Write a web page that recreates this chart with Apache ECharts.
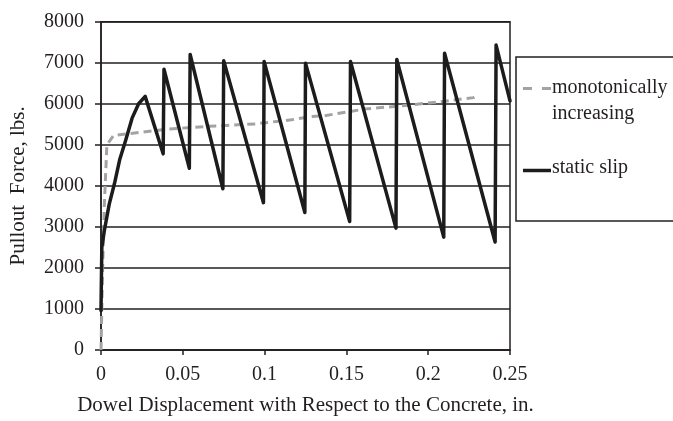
<!DOCTYPE html>
<html>
<head>
<meta charset="utf-8">
<script src="https://cdn.jsdelivr.net/npm/echarts@6/dist/echarts.min.js"></script>
<style>
  html, body { margin: 0; padding: 0; background: #fff; }
  #chart { width: 673px; height: 421px; }
</style>
</head>
<body>
<div id="chart"></div>
<script>
// displacement (in.) / force (lbs.)
var slipX = [0, 0.0005, 0.002, 0.005, 0.0085, 0.0115, 0.015, 0.019, 0.023, 0.027,
  0.038, 0.0385, 0.054, 0.0545, 0.0745, 0.075, 0.0993, 0.0997, 0.1246, 0.125,
  0.152, 0.1525, 0.1803, 0.1808, 0.2095, 0.21, 0.2409, 0.2415, 0.25]
var slipY = [960, 2500, 2900, 3550, 4100, 4650, 5100, 5650, 6000, 6180,
  4780, 6840, 4430, 7200, 3930, 7050, 3590, 7030, 3350, 6990,
  3130, 7030, 2970, 7080, 2750, 7230, 2630, 7430, 6070]

var monoX = [0, 0.001, 0.002, 0.0036, 0.0077, 0.0255, 0.04, 0.0656, 0.0943, 0.1165,
  0.1286, 0.1367, 0.161, 0.1832, 0.2055, 0.2277, 0.229]
var monoY = [0, 2000, 3500, 5000, 5230, 5310, 5380, 5450, 5510, 5610,
  5690, 5710, 5870, 5950, 6040, 6150, 6180]

var xTicks = [0, 0.05, 0.1, 0.15, 0.2, 0.25]
var yTicks = [0, 1000, 2000, 3000, 4000, 5000, 6000, 7000, 8000]

var seriesNames = ['monotonically increasing', 'static slip']

function zip(xs, ys) {
  return xs.map(function (x, i) { return [x, ys[i]] })
}

var ink = '#231f20'
var serif = '"Liberation Serif", "DejaVu Serif", serif'

var chart = echarts.init(document.getElementById('chart'))
chart.setOption({
  animation: false,
  backgroundColor: '#fff',
  textStyle: { fontFamily: serif, color: ink },
  grid: {
    left: 99, right: 163, top: 21.7, bottom: 66,
    show: true, borderColor: ink, borderWidth: 1.5
  },
  xAxis: {
    type: 'value',
    min: xTicks[0],
    max: xTicks[xTicks.length - 1],
    interval: 0.05,
    name: 'Dowel Displacement with Respect to the Concrete, in.',
    nameLocation: 'middle',
    nameGap: 45,
    nameTextStyle: { fontFamily: serif, fontSize: 21, color: ink },
    axisLine: { lineStyle: { color: ink, width: 1.5 } },
    axisTick: { length: 5, lineStyle: { color: ink, width: 1.5 } },
    axisLabel: {
      margin: 15, fontFamily: serif, fontSize: 20, color: ink,
      formatter: function (v) { return String(+v.toFixed(2)) }
    },
    splitLine: { show: false }
  },
  yAxis: {
    type: 'value',
    min: yTicks[0],
    max: yTicks[yTicks.length - 1],
    interval: 1000,
    name: 'Pullout  Force, lbs.',
    nameLocation: 'middle',
    nameRotate: 90,
    nameGap: 72,
    nameTextStyle: { fontFamily: serif, fontSize: 21, color: ink },
    axisLine: { show: true, lineStyle: { color: ink, width: 1.5 } },
    axisTick: { show: true, length: 6, lineStyle: { color: ink, width: 1.5 } },
    axisLabel: {
      margin: 17, fontFamily: serif, fontSize: 20, color: ink,
      formatter: function (v) { return String(v) }
    },
    splitLine: { show: true, lineStyle: { color: ink, width: 1.5 } }
  },
  series: [
    {
      name: seriesNames[0],
      type: 'line',
      showSymbol: false,
      data: zip(monoX, monoY),
      lineStyle: { color: '#a3a3a3', width: 3, type: [8, 5] },
      z: 2
    },
    {
      name: seriesNames[1],
      type: 'line',
      showSymbol: false,
      data: zip(slipX, slipY),
      lineStyle: { color: '#1c1c1c', width: 3.5, join: 'round', cap: 'round' },
      z: 3
    }
  ],
  graphic: [
    {
      type: 'rect',
      shape: { x: 516, y: 57, width: 200, height: 164 },
      style: { fill: 'none', stroke: ink, lineWidth: 1.5 }
    },
    {
      type: 'line',
      shape: { x1: 523, y1: 88.5, x2: 551, y2: 88.5 },
      style: { stroke: '#a3a3a3', lineWidth: 3, lineDash: [9, 10] }
    },
    {
      type: 'text',
      top: 75, left: 552,
      style: {
        text: 'monotonically\nincreasing', lineHeight: 26,
        font: '20px ' + serif, fill: ink
      }
    },
    {
      type: 'line',
      shape: { x1: 523, y1: 170.5, x2: 551, y2: 170.5 },
      style: { stroke: '#1c1c1c', lineWidth: 3.5 }
    },
    {
      type: 'text',
      left: 552, top: 158,
      style: { text: 'static slip', font: '20px ' + serif, fill: ink }
    }
  ]
})
</script>
</body>
</html>
